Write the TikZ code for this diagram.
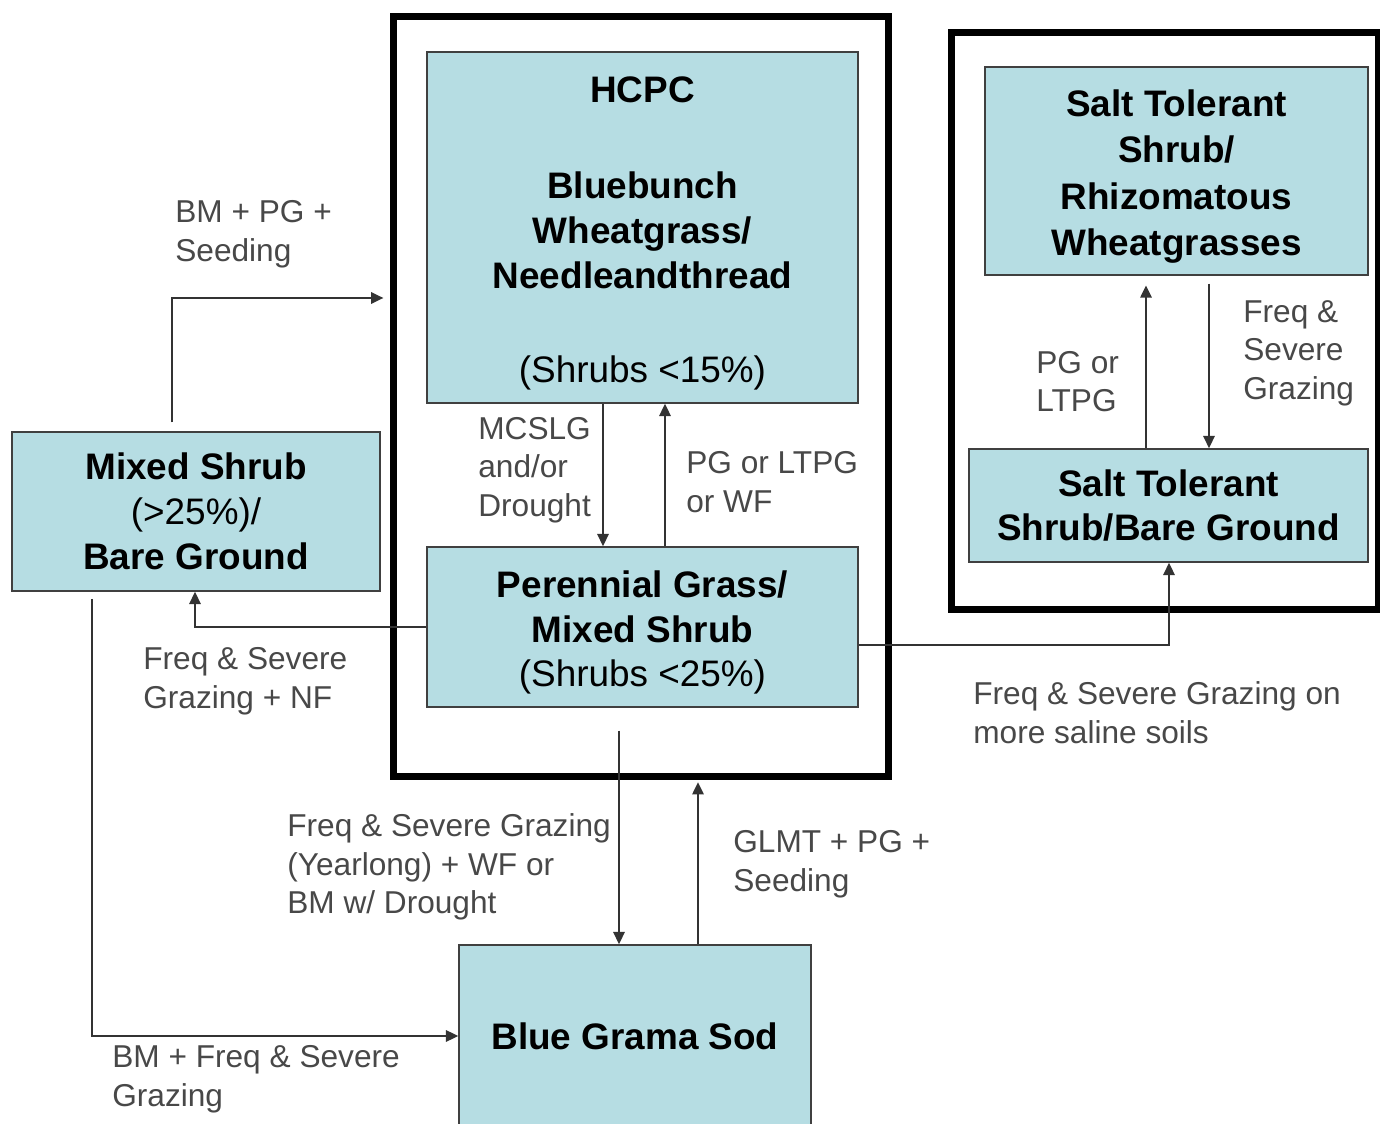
\documentclass[tikz,border=0pt]{standalone}
\usepackage{fontspec}
\setmainfont{Liberation Sans}
\usetikzlibrary{arrows.meta}

\definecolor{boxfill}{RGB}{182,221,227}
\definecolor{lblgray}{RGB}{72,72,72}
\newcommand\boxfont{\fontsize{21}{25.5}\selectfont\bfseries}
\newcommand\lblfont{\fontsize{18}{22}\selectfont}
\newcommand\toprule{\rule{0pt}{21.5pt}}

\tikzset{
  statebox/.style={draw=black!75, fill=boxfill, line width=0.9pt, inner sep=0pt, align=center, font=\boxfont},
  frame/.style={draw=black, line width=4pt, inner sep=0pt},
  lbl/.style={anchor=west, align=left, inner sep=0pt, text=lblgray, font=\lblfont},
  arr/.style={draw=black!80, line width=1.1pt, -{Triangle[length=7pt,width=6.5pt]}}
}

\begin{document}
\begin{tikzpicture}[x=0.02cm, y=-0.02cm]
\useasboundingbox (0,0) rectangle (1380,1124);

\node[frame, minimum width=9.92cm, minimum height=15.22cm] (f) at (641,396.5) {};
\node[frame, minimum width=8.56cm, minimum height=11.56cm] (r) at (1165,321) {};

\node[statebox, minimum width=8.62cm, minimum height=7.02cm] (h) at (642.5,227.5)
  {\toprule HCPC\\[29pt] Bluebunch\\ Wheatgrass/\\ Needleandthread\\[28pt] {\mdseries (Shrubs <15\%)}};
\node[statebox, minimum width=8.62cm, minimum height=3.2cm] (p) at (642.5,627)
  {\toprule Perennial Grass/\\ Mixed Shrub\\ {\mdseries (Shrubs <25\%)}};
\node[statebox, minimum width=7.36cm, minimum height=3.18cm] (m) at (196,511.5)
  {Mixed Shrub\\ {\mdseries (>25\%)/}\\ Bare Ground};
\node[statebox, minimum width=7.04cm, minimum height=3.64cm] (g) at (635,1036) {Blue Grama Sod};
\node[statebox, minimum width=7.66cm, minimum height=4.16cm] (s) at (1176.5,171)
  {\toprule Salt Tolerant\\[1pt] Shrub/\\[1pt] Rhizomatous\\[1pt] Wheatgrasses};
\node[statebox, minimum width=7.98cm, minimum height=2.26cm] (t) at (1168.5,505.5)
  {Salt Tolerant\\ Shrub/Bare Ground};

\path[arr, shorten <=5pt, shorten >=3.5pt] (m.north -| 172,0) |- (f.west |- 0,298);
\path[arr] (h.south -| 603,0) -- (p.north -| 603,0);
\path[arr] (p.north -| 665,0) -- (h.south -| 665,0);
\path[arr] (p.west) -| (m.south -| 195,0);
\path[arr] (p.east |- 0,645) -| (t.south -| 1169,0);
\path[arr, shorten >=5.5pt] (t.north -| 1146,0) -- (s.south -| 1146,0);
\path[arr, shorten <=4.5pt] (s.south -| 1209,0) -- (t.north -| 1209,0);
\path[arr, shorten <=13pt] (p.south -| 619,0) -- (g.north -| 619,0);
\path[arr, shorten >=1pt] (g.north -| 698,0) -- (f.south -| 698,0);
\path[arr, shorten <=4pt] (m.south -| 92,0) |- (g.west |- 0,1036);

\node[lbl] (l1) at (175,234.5) {BM + PG +\\ Seeding};
\node[lbl] (l2) at (478,470) {MCSLG\\ and/or\\ Drought};
\node[lbl] (l3) at (686,482) {PG or LTPG\\ or WF};
\node[lbl] (l4) at (143,681) {Freq \& Severe\\ Grazing + NF};
\node[lbl] (l5) at (973,713) {Freq \& Severe Grazing on\\ more saline soils};
\node[lbl] (l6) at (1036,381.5) {PG or\\ LTPG};
\node[lbl] (l7) at (1243,353) {Freq \&\\ Severe\\ Grazing};
\node[lbl] (l8) at (287,867) {Freq \& Severe Grazing\\ (Yearlong) + WF or\\ BM w/ Drought};
\node[lbl] (l9) at (733,864) {GLMT + PG +\\ Seeding};
\node[lbl] (l10) at (112,1079) {BM + Freq \& Severe\\ Grazing};
\end{tikzpicture}
\end{document}
